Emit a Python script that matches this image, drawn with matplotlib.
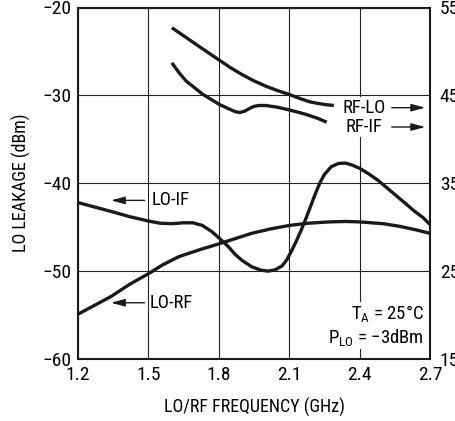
import matplotlib
matplotlib.use("Agg")
import matplotlib.pyplot as plt

# condensed sans first, normal ones as fallback
plt.rcParams["font.family"] = ["Roboto Condensed", "Liberation Sans", "DejaVu Sans"]
plt.rcParams["mathtext.default"] = "regular"

# curves (GHz, dBm)
rf_lo_x = [1.60, 1.63, 1.66, 1.69, 1.72, 1.75, 1.80, 1.85, 1.90, 1.95, 2.00, 2.05, 2.10, 2.15, 2.19, 2.23, 2.26, 2.29]
rf_lo_y = [-22.3, -22.85, -23.4, -23.95, -24.5, -25.05, -25.95, -26.85, -27.65, -28.35, -28.95, -29.45, -29.9, -30.4, -30.75, -30.95, -31.07, -31.15]

rf_if_x = [1.60, 1.63, 1.66, 1.70, 1.73, 1.77, 1.80, 1.84, 1.87, 1.89, 1.91, 1.93, 1.95, 1.97, 2.00, 2.05, 2.10, 2.17, 2.22, 2.26]
rf_if_y = [-26.3, -27.4, -28.35, -29.2, -29.85, -30.5, -31.0, -31.5, -31.85, -31.95, -31.8, -31.5, -31.25, -31.15, -31.15, -31.35, -31.65, -32.15, -32.6, -33.05]

lo_if_x = [1.20, 1.27, 1.34, 1.42, 1.50, 1.55, 1.60, 1.65, 1.69, 1.73, 1.77, 1.80, 1.84, 1.87, 1.90,
           1.94, 1.98, 2.01, 2.04, 2.07, 2.09, 2.11, 2.13, 2.15, 2.17, 2.19, 2.21, 2.23, 2.25, 2.28, 2.31,
           2.34, 2.37, 2.40, 2.44, 2.48, 2.52, 2.56, 2.60, 2.63, 2.67, 2.70]
lo_if_y = [-42.2, -42.7, -43.2, -43.8, -44.3, -44.55, -44.6, -44.5, -44.5, -44.8, -45.5, -46.2, -47.2, -48.1, -48.8,
           -49.5, -49.9, -50.0, -49.85, -49.4, -48.7, -47.7, -46.6, -45.4, -44.1, -42.7, -41.3, -40.0, -39.0, -38.1, -37.75,
           -37.7, -37.95, -38.3, -38.95, -39.7, -40.6, -41.5, -42.4, -43.1, -43.9, -44.7]

lo_rf_x = [1.20, 1.27, 1.34, 1.42, 1.50, 1.56, 1.63, 1.72, 1.80, 1.87, 1.94, 2.02, 2.10, 2.18, 2.27, 2.34, 2.40, 2.45, 2.50, 2.57, 2.64, 2.70]
lo_rf_y = [-54.9, -53.9, -52.9, -51.5, -50.3, -49.3, -48.35, -47.55, -46.9, -46.3, -45.7, -45.2, -44.8, -44.55, -44.4, -44.35, -44.4, -44.5, -44.6, -44.9, -45.3, -45.7]

x_ticks = [1.2, 1.5, 1.8, 2.1, 2.4, 2.7]
y_ticks = [-60, -50, -40, -30, -20]
y2_ticks = [15, 25, 35, 45, 55]

fig = plt.figure(figsize=(4.56, 4.21), dpi=100)
ax = fig.add_axes([78 / 456, 1 - 359 / 421, 352 / 456, 351.5 / 421])

ink = "#1a1a1a"
lw = 2.4
for xs, ys in [(rf_lo_x, rf_lo_y), (rf_if_x, rf_if_y), (lo_if_x, lo_if_y), (lo_rf_x, lo_rf_y)]:
    ax.plot(xs, ys, color=ink, lw=lw, solid_capstyle="butt", solid_joinstyle="round", zorder=3)

ax.set_xlim(1.2, 2.7)
ax.set_ylim(-60, -20)
ax.set_xticks(x_ticks)
ax.set_xticklabels([f"{v:.1f}" for v in x_ticks])
ax.set_yticks(y_ticks)
ax.grid(True, color="#222222", lw=0.8, zorder=1)
ax.set_axisbelow(True)
ax.tick_params(length=0, labelsize=14, pad=5)
for s in ax.spines.values():
    s.set_linewidth(1.5)
    s.set_color(ink)

ax.set_xlabel("LO/RF FREQUENCY (GHz)", fontsize=13, labelpad=10)
ax.set_ylabel("LO LEAKAGE (dBm)", fontsize=13, labelpad=8)

ax2 = ax.twinx()
ax2.set_ylim(15, 55)
ax2.set_yticks(y2_ticks)
ax2.tick_params(length=0, labelsize=14, pad=7)
for s in ax2.spines.values():
    s.set_visible(False)

box = dict(facecolor="white", edgecolor="none", pad=1)
ap = dict(arrowstyle="-|>,head_length=0.6,head_width=0.16", color=ink, lw=1.0,
          mutation_scale=14, shrinkA=0, shrinkB=0)

# curve labels with arrows
ax.text(2.512, -31.4, "RF-LO", fontsize=13.5, ha="right", va="center", bbox=box, zorder=4)
ax.annotate("", xy=(2.68, -31.4), xytext=(2.537, -31.4), arrowprops=ap, zorder=4)
ax.text(2.498, -33.6, "RF-IF", fontsize=13.5, ha="right", va="center", bbox=box, zorder=4)
ax.annotate("", xy=(2.68, -33.6), xytext=(2.537, -33.6), arrowprops=ap, zorder=4)

ax.text(1.512, -41.95, "LO-IF", fontsize=13.5, ha="left", va="center", bbox=box, zorder=4)
ax.annotate("", xy=(1.34, -41.95), xytext=(1.484, -41.95), arrowprops=ap, zorder=4)
ax.text(1.507, -53.6, "LO-RF", fontsize=13.5, ha="left", va="center", bbox=box, zorder=4)
ax.annotate("", xy=(1.34, -53.6), xytext=(1.484, -53.6), arrowprops=ap, zorder=4)

ax.text(2.672, -58.7, "T$_{A}$ = 25°C\nP$_{LO}$ = −3dBm", fontsize=13.5, ha="right", va="bottom",
        linespacing=1.15, bbox=box, zorder=4)

fig.savefig("out.png", dpi=100)
